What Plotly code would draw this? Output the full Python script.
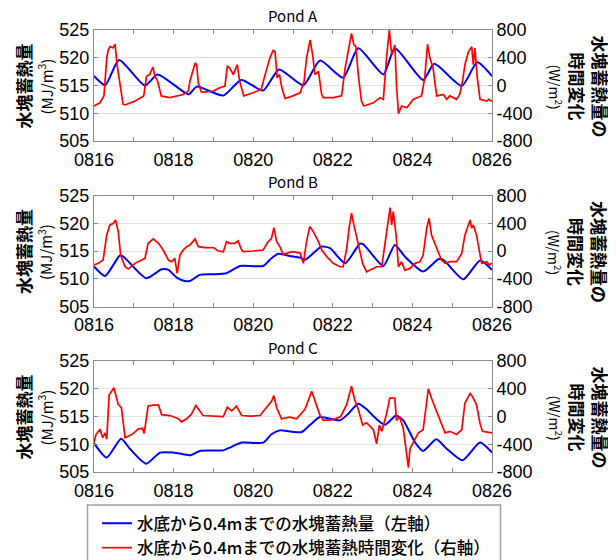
import plotly.graph_objects as go

# ---------------- data (days since 08/16 00:00) ----------------
day_ticks = [0, 1, 2, 3, 4, 5, 6, 7, 8, 9, 10]
day_labels = ["0816", "", "0818", "", "0820", "", "0822", "", "0824", "", "0826"]
left_ticks = [505, 510, 515, 520, 525]
right_ticks = [-800, -400, 0, 400, 800]
right_labels = ["-800", "-400", "0", "400", "800"]
pond_names = ["Pond A", "Pond B", "Pond C"]
legend_names = ["水底から0.4mまでの水塊蓄熱量（左軸）", "水底から0.4mまでの水塊蓄熱時間変化（右軸）"]

a_blue_t = [0, 0.28, 0.63, 1.28, 1.6, 2.38, 2.58, 3.25, 3.7, 4.25, 4.65, 5.26, 5.68, 6.26, 6.64,
            7.27, 7.56, 8.27, 8.55, 9.24, 9.63, 10]
a_blue_v = [516.7, 515.05, 519.6, 515.0, 517.0, 513.4, 514.8, 513.2, 516.0, 514.1, 517.9, 515.05,
            519.5, 516.4, 521.7, 517.0, 521.7, 516.0, 518.9, 514.9, 519.2, 516.7]
a_red_t = [0, 0.15, 0.25, 0.32, 0.36, 0.4, 0.48, 0.53, 0.58, 0.65, 0.73, 0.78, 1.0, 1.25, 1.32, 1.4,
           1.48, 1.53, 1.6, 1.69, 1.9, 2.24, 2.37, 2.41, 2.54, 2.58, 2.62, 2.7, 3.0, 3.16, 3.29, 3.35,
           3.41, 3.5, 3.6, 3.66, 3.76, 4.0, 4.2, 4.3, 4.42, 4.5, 4.55, 4.6, 4.66, 4.72, 4.8, 4.95,
           5.18, 5.28, 5.34, 5.43, 5.5, 5.55, 5.64, 5.72, 5.76, 6.01, 6.22, 6.31, 6.41, 6.47, 6.53,
           6.58, 6.64, 6.72, 6.78, 7.02, 7.19, 7.27, 7.35, 7.42, 7.48, 7.56, 7.6, 7.65, 7.73, 7.86,
           8.02, 8.23, 8.31, 8.38, 8.44, 8.52, 8.61, 8.78, 8.86, 8.94, 9.11, 9.19, 9.26, 9.32, 9.41,
           9.49, 9.53, 9.57, 9.63, 9.7, 9.87, 9.92, 10]
a_red_v = [-295, -250, -150, 395, 515, 560, 545, 595, 300, 15, -270, -280, -233, -150, 133, 157,
           267, 133, 62, -150, -175, -130, -80, 62, 324, 300, 38, -95, -80, -33, -10, 276,
           252, 157, 300, 62, -150, -105, -57, 157, 395, 505, 490, 110, 157, -33, -185, -160,
           -105, 62, 395, 657, 420, 157, 205, -130, -175, -175, -150, 252, 540, 750, 585,
           560, 157, -225, -295, -250, -175, -200, 395, 800, 440, 585, 15, -405, -295, -320,
           -200, -150, 110, 595, 395, 252, -150, -130, -200, -150, -200, -130, 62, 300, 490,
           560, 300, 540, 110, -200, -225, -200, -233]

b_blue_t = [0, 0.28, 0.65, 0.74, 1.31, 1.7, 1.87, 2.08, 2.28, 2.41, 2.66, 3.0, 3.33, 3.67, 4.25,
            4.46, 4.63, 4.92, 5.18, 5.3, 5.72, 5.93, 6.31, 6.68, 6.77, 7.27, 7.56, 7.81, 8.27,
            8.65, 8.78, 9.28, 9.7, 10]
b_blue_v = [512.2, 510.5, 514.2, 514.0, 510.1, 511.7, 511.6, 510.2, 509.6, 509.6, 510.7, 510.8,
            511.0, 512.3, 512.3, 513.7, 514.5, 514.1, 513.8, 513.4, 515.8, 515.5, 512.8, 516.3,
            516.2, 512.3, 516.1, 514.0, 511.3, 513.5, 513.4, 509.9, 513.3, 511.6]
b_red_t = [0, 0.11, 0.23, 0.32, 0.4, 0.49, 0.54, 0.61, 0.67, 0.78, 0.86, 1.03, 1.2, 1.28, 1.36,
           1.49, 1.62, 1.74, 1.87, 1.95, 2.03, 2.09, 2.16, 2.24, 2.33, 2.41, 2.54, 2.62, 2.79, 3.0,
           3.12, 3.25, 3.33, 3.41, 3.54, 3.62, 3.71, 3.75, 4.0, 4.25, 4.38, 4.46, 4.52, 4.59, 4.67,
           4.75, 4.92, 5.01, 5.18, 5.26, 5.34, 5.42, 5.51, 5.64, 5.72, 5.85, 6.01, 6.18, 6.26,
           6.35, 6.41, 6.47, 6.53, 6.64, 6.75, 6.85, 7.1, 7.23, 7.31, 7.4, 7.44, 7.48, 7.52, 7.59,
           7.65, 7.73, 7.81, 7.94, 8.07, 8.19, 8.27, 8.36, 8.42, 8.48, 8.6, 8.73, 8.82, 8.94, 9.11,
           9.24, 9.32, 9.45, 9.49, 9.53, 9.61, 9.74, 9.87, 9.93, 10]
b_red_v = [-202, -178, -130, 231, 376, 400, 448, 280, -58, -227, -260, -178, -130, -106, 111,
           174, 111, 14, -130, -154, -106, -323, -58, 14, 63, 87, 174, 63, 48, 48,
           0, -10, 135, 111, 111, 145, 14, -10, 0, 14, 135, 183, 337, 135, 63,
           -48, -20, -10, -30, -178, 135, 352, 280, 135, 14, -82, -178, -227, -225,
           39, 328, 545, 376, 87, -178, -299, -227, -225, 87, 400, 627, 376, 569, 231,
           -227, -154, -275, -251, -178, -154, -58, 328, 472, 231, 63, -130, -178, -154, -154,
           -34, 231, 448, 328, 376, 231, -178, -154, -202, -178]

c_blue_t = [0, 0.32, 0.68, 0.9, 1.31, 1.66, 1.99, 2.24, 2.41, 2.66, 3.25, 3.41, 3.71, 4.25, 4.46,
            4.67, 4.92, 5.22, 5.43, 5.68, 6.18, 6.39, 6.64, 6.85, 7.06, 7.31, 7.59, 7.77, 8.07,
            8.27, 8.6, 8.86, 9.26, 9.7, 10]
c_blue_v = [510.2, 507.6, 511.0, 509.2, 506.5, 508.5, 508.5, 508.2, 508.0, 508.8, 508.9, 509.4,
            510.3, 510.3, 511.8, 512.5, 512.3, 512.2, 513.5, 514.9, 514.3, 515.5, 517.3, 516.3,
            514.8, 513.5, 515.2, 514.3, 510.3, 508.8, 510.9, 509.2, 507.1, 510.3, 508.5]
c_red_t = [0, 0.05, 0.15, 0.22, 0.28, 0.32, 0.38, 0.5, 0.61, 0.69, 0.78, 0.95, 1.11, 1.22, 1.26,
           1.36, 1.49, 1.62, 1.7, 1.91, 2.12, 2.2, 2.33, 2.45, 2.56, 2.62, 2.74, 3.25, 3.35, 3.46,
           3.58, 3.71, 3.92, 4.17, 4.33, 4.46, 4.52, 4.59, 4.71, 4.92, 5.09, 5.3, 5.47, 5.55, 5.68,
           5.76, 6.01, 6.2, 6.35, 6.47, 6.55, 6.64, 6.75, 6.85, 6.93, 7.02, 7.1, 7.17, 7.23, 7.35,
           7.43, 7.56, 7.6, 7.68, 7.77, 7.81, 7.86, 7.9, 7.94, 8.02, 8.15, 8.27, 8.36, 8.4, 8.48,
           8.6, 8.73, 8.82, 8.94, 9.11, 9.24, 9.32, 9.45, 9.51, 9.61, 9.7, 9.76, 10]
c_red_v = [-373, -260, -182, -305, -236, -327, 309, 414, 173, 127, -305, -260, -182, -168, -245,
           150, 164, 164, 27, 14, -32, -77, -32, 36, 159, 105, 14, 0, 136, 82,
           150, 14, 5, 14, 127, 218, 300, 127, -32, -10, -32, 105, 364, 218, 14,
           -55, -45, 0, 173, 436, 241, 105, -123, -91, -145, -191, -395, -123, -214, 36,
           264, 264, -55, -9, -168, -350, -509, -736, -464, -373, -236, -191, 173, 400, 264,
           82, -123, -236, -214, -259, -191, 195, 332, 286, 173, -100, -214, -236]

blue_t = [a_blue_t, b_blue_t, c_blue_t]
blue_v = [a_blue_v, b_blue_v, c_blue_v]
red_t = [a_red_t, b_red_t, c_red_t]
red_v = [a_red_v, b_red_v, c_red_v]

# ---------------- figure ----------------
W, H = 616, 560
OFF = 8  # page body margin offset
JP = "Noto Sans CJK JP"
NUM = "Liberation Sans"
FRAME = "#8a8a8a"


def px_x(px):
    return (px - OFF) / W


def px_y(py):
    return 1 - (py - OFF) / H


plot_left, plot_right = 94, 492
panel_tops = [30, 195.5, 361]
panel_h = 111

fig = go.Figure()
annotations = []
layout = {}
for i in range(3):
    xa = "x" if i == 0 else f"x{i+1}"
    ya_l = "y" if i == 0 else f"y{2*i+1}"
    ya_r = f"y{2*i+2}"
    fig.add_trace(go.Scatter(x=blue_t[i], y=blue_v[i], mode="lines", xaxis=xa, yaxis=ya_l,
                             line=dict(color="#0000FF", width=2, shape="spline", smoothing=0.6),
                             name=legend_names[0], showlegend=(i == 0), legendrank=1))
    fig.add_trace(go.Scatter(x=red_t[i], y=red_v[i], mode="lines", xaxis=xa, yaxis=ya_r,
                             line=dict(color="#FF0000", width=1.7),
                             name=legend_names[1], showlegend=(i == 0), legendrank=2))
    top = panel_tops[i]
    bot = top + panel_h
    ydom = [px_y(bot), px_y(top)]
    xkey = "xaxis" if i == 0 else f"xaxis{i+1}"
    ylkey = "yaxis" if i == 0 else f"yaxis{2*i+1}"
    yrkey = f"yaxis{2*i+2}"
    layout[xkey] = dict(domain=[px_x(plot_left), px_x(plot_right)], anchor=ya_l, range=[0, 10],
                        tickvals=day_ticks, ticktext=day_labels, ticks="inside", ticklen=4,
                        tickcolor=FRAME, showline=True, linecolor=FRAME, linewidth=1,
                        mirror="ticks", showgrid=False, zeroline=False, ticklabelstandoff=2,
                        tickfont=dict(family=NUM, size=18, color="black"))
    layout[ylkey] = dict(domain=ydom, anchor=xa, range=[505, 525], tickvals=left_ticks,
                         ticks="inside", ticklen=4, tickcolor=FRAME, showline=True,
                         linecolor=FRAME, linewidth=1, showgrid=True, gridcolor="#e3e3e3",
                         gridwidth=1, zeroline=False,
                         tickfont=dict(family=NUM, size=18, color="black"))
    layout[yrkey] = dict(overlaying=ya_l, anchor=xa, side="right", range=[-800, 800],
                         tickvals=right_ticks, ticktext=right_labels, ticks="inside", ticklen=4,
                         tickcolor=FRAME, showline=True, linecolor=FRAME, linewidth=1,
                         showgrid=False, zeroline=False,
                         tickfont=dict(family=NUM, size=18, color="black"))
    cy = px_y(top + panel_h / 2 + 1)
    common = dict(xref="paper", yref="paper", showarrow=False, xanchor="center", yanchor="middle")
    annotations.append(dict(text=pond_names[i], x=px_x((plot_left + plot_right) / 2),
                            y=px_y(top - 14), font=dict(family=JP, size=15, color="black"), **common))
    annotations.append(dict(text="<b>水塊蓄熱量</b>", x=px_x(23), y=cy, textangle=-90,
                            font=dict(family=JP, size=17, color="black"), **common))
    annotations.append(dict(text="(MJ/m<sup>3</sup>)", x=px_x(45), y=cy, textangle=-90,
                            font=dict(family=JP, size=15, color="black"), **common))
    annotations.append(dict(text="<b>水塊蓄熱量の</b>", x=px_x(600), y=cy, textangle=90,
                            font=dict(family=JP, size=17, color="black"), **common))
    annotations.append(dict(text="<b>時間変化</b>", x=px_x(577), y=cy, textangle=90,
                            font=dict(family=JP, size=17, color="black"), **common))
    annotations.append(dict(text="(W/m<sup>2</sup>)", x=px_x(555), y=cy, textangle=90,
                            font=dict(family=JP, size=14, color="black"), **common))

fig.update_layout(**layout)
fig.update_layout(
    width=W, height=H, margin=dict(l=0, r=0, t=0, b=0, autoexpand=False),
    paper_bgcolor="white", plot_bgcolor="white",
    annotations=annotations,
    showlegend=True,
    legend=dict(x=px_x(97), y=px_y(506), xanchor="left", yanchor="top",
                bgcolor="rgba(0,0,0,0)", borderwidth=0, tracegroupgap=0,
                font=dict(family=JP, size=16.5, weight=500, color="black")),
    shapes=[dict(type="rect", xref="paper", yref="paper", x0=px_x(87.5), x1=px_x(500.5),
                 y0=-0.2, y1=px_y(505), line=dict(color="#a0a0a0", width=1.5))],
)
fig.write_html("out.html")
